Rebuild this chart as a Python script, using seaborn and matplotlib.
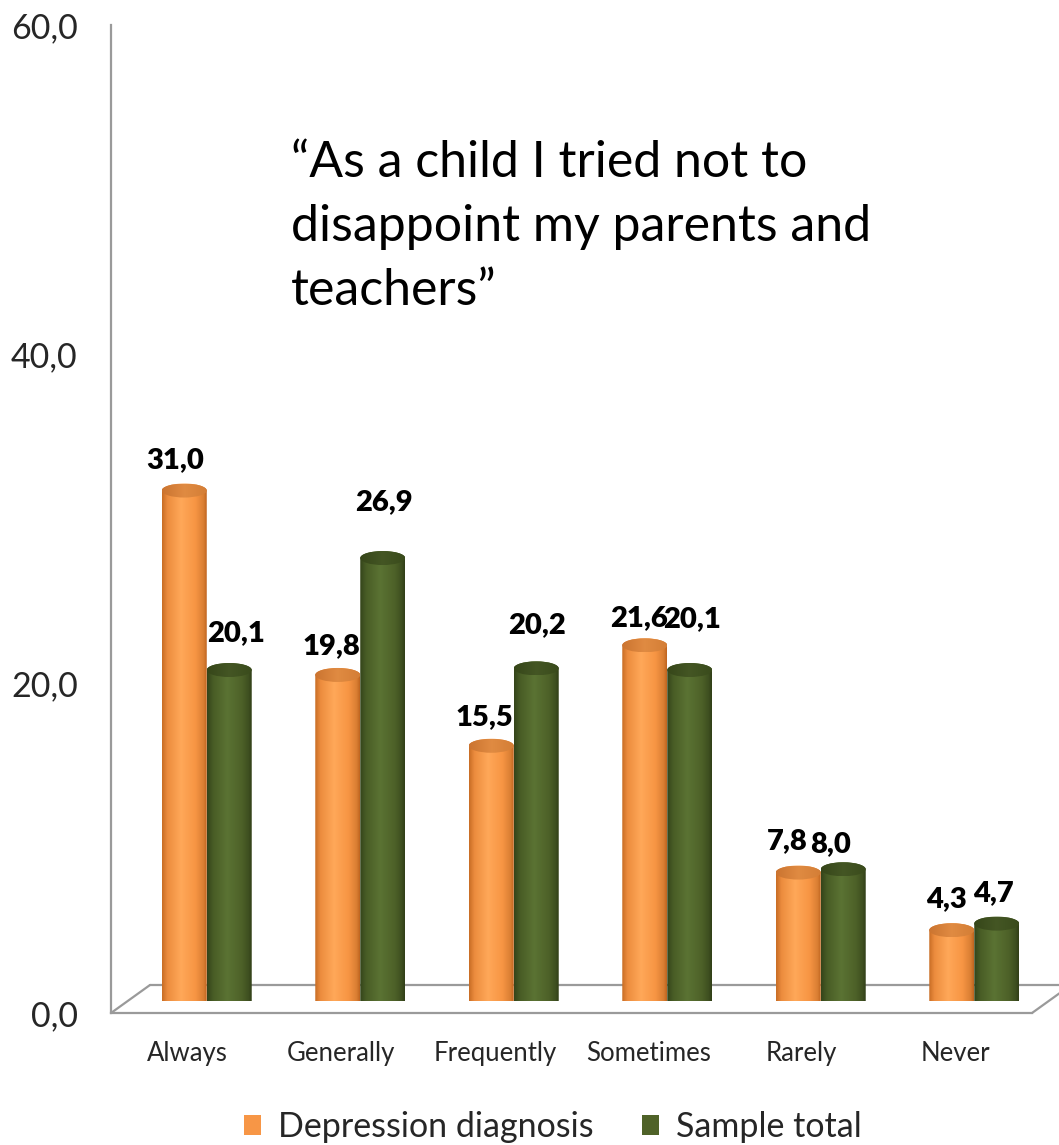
import numpy as np
import pandas as pd
import matplotlib
matplotlib.use("Agg")
import matplotlib.pyplot as plt
from matplotlib.path import Path
from matplotlib.patches import PathPatch, Ellipse, Patch
from matplotlib.colors import LinearSegmentedColormap
import seaborn as sns

# ---- data -------------------------------------------------------------
categories = ["Always", "Generally", "Frequently", "Sometimes", "Rarely", "Never"]
depression = [31.0, 19.8, 15.5, 21.6, 7.8, 4.3]
sample_total = [20.1, 26.9, 20.2, 20.1, 8.0, 4.7]
series_names = ["Depression diagnosis", "Sample total"]
y_ticks = [0, 20, 40, 60]

# nudges (px) of each value label relative to the top of its cylinder cap
label_gap = {
    "Depression diagnosis": [10, 9, 9, 7, 11, 11],
    "Sample total": [17, 36, 23, 31, 5, 10],
}
label_dx = {
    "Depression diagnosis": [-9, -6, -7, -6, -11, -5],
    "Sample total": [7, 1, 1, 2, -13, -3],
}

df = pd.DataFrame({
    "category": categories * 2,
    "value": depression + sample_total,
    "group": [series_names[0]] * len(categories) + [series_names[1]] * len(categories),
})

# ---- style ------------------------------------------------------------
sns.set_style("white")
plt.rcParams["font.family"] = ["Lato", "DejaVu Sans"]

W, H, DPI = 1059, 1145, 100
fig = plt.figure(figsize=(W / DPI, H / DPI), dpi=DPI)

# axis frame (front plane of the 3-D box), in pixels
left, right, top, bottom = 111, 1032, 25, 1013
depth_dx, depth_dy = 39, 28          # floor depth
bar_dx, bar_dy = 19, 12              # bars stand half-way into the floor

def fig_rect(l, b_px, w, h):
    return [l / W, (H - b_px) / H, w / W, h / H]

ax = fig.add_axes(fig_rect(left, bottom, right - left, bottom - top))
bar_ax = fig.add_axes(fig_rect(left + bar_dx, bottom - bar_dy, right - left, bottom - top))

gray = "#9a9a9a"
for a in (ax, bar_ax):
    a.set_xlim(-0.5, len(categories) - 0.5)
    a.set_ylim(0, 60)
    a.set_facecolor("none")

# ---- bars via seaborn --------------------------------------------------
colors = {"Depression diagnosis": "#f79646", "Sample total": "#4f6228"}
sns.barplot(data=df, x="category", y="value", hue="group", order=categories,
            hue_order=series_names, palette=colors, width=0.586, dodge=True,
            legend=False, ax=bar_ax, errorbar=None, saturation=1)
bar_ax.set_xlim(-0.5, len(categories) - 0.5)
bar_ax.set_ylim(0, 60)
bar_ax.axis("off")

px_per_unit = (bottom - top) / 60.0
px_per_cat = (right - left) / len(categories)
ell = 7.0 / px_per_unit  # half-height of the cylinder ellipses in data units

body_cmaps = {
    "Depression diagnosis": LinearSegmentedColormap.from_list(
        "org", [(0, "#c86d25"), (0.12, "#ec8c3e"), (0.42, "#ffa859"),
                (0.75, "#f79543"), (0.93, "#d97e33"), (1, "#c0651f")]),
    "Sample total": LinearSegmentedColormap.from_list(
        "grn", [(0, "#34441a"), (0.14, "#495d26"), (0.45, "#5b7333"),
                (0.78, "#4d6128"), (0.93, "#3e4f20"), (1, "#313f18")]),
}
cap_cmaps = {
    "Depression diagnosis": LinearSegmentedColormap.from_list(
        "orgcap", ["#cb7430", "#e08b42", "#d47e36"]),
    "Sample total": LinearSegmentedColormap.from_list(
        "grncap", ["#364619", "#445624", "#3a4b1c"]),
}

grad = np.linspace(0, 1, 128)[None, :]
theta_lo = np.linspace(np.pi, 2 * np.pi, 60)
theta_hi = np.linspace(0, np.pi, 60)

for name, container in zip(series_names, bar_ax.containers):
    vals = depression if name == series_names[0] else sample_total
    for i, rect in enumerate(container):
        x0, w, h = rect.get_x(), rect.get_width(), rect.get_height()
        rect.set_visible(False)
        cx = x0 + w / 2
        # silhouette of the cylinder body
        xs = np.concatenate([[x0], cx + w / 2 * np.cos(theta_lo), [x0 + w],
                             cx + w / 2 * np.cos(theta_hi)])
        ys = np.concatenate([[h], ell * np.sin(theta_lo), [h],
                             h + ell * np.sin(theta_hi)])
        verts = np.column_stack([xs, ys])
        codes = [Path.MOVETO] + [Path.LINETO] * (len(verts) - 2) + [Path.CLOSEPOLY]
        body = PathPatch(Path(verts, codes), facecolor="none", edgecolor="none",
                         transform=bar_ax.transData)
        bar_ax.add_patch(body)
        im = bar_ax.imshow(body_cmaps[name](grad), extent=[x0, x0 + w, -ell, h + ell],
                           aspect="auto", interpolation="bilinear", zorder=2)
        im.set_clip_path(body)
        # top cap
        cap = Ellipse((cx, h), w, 2 * ell, facecolor="none", edgecolor="none",
                      transform=bar_ax.transData)
        bar_ax.add_patch(cap)
        cim = bar_ax.imshow(cap_cmaps[name](grad), extent=[x0, x0 + w, h - ell, h + ell],
                            aspect="auto", interpolation="bilinear", zorder=3)
        cim.set_clip_path(cap)
        # value label
        bar_ax.annotate(f"{vals[i]:.1f}".replace(".", ","), xy=(cx, h + ell),
                        xytext=(label_dx[name][i] * 72 / DPI, label_gap[name][i] * 72 / DPI),
                        textcoords="offset points", ha="center", va="bottom",
                        fontsize=21, fontweight="heavy", color="black", zorder=5)

bar_ax.set_xlim(-0.5, len(categories) - 0.5)
bar_ax.set_ylim(0, 60)

# ---- axis decoration ----------------------------------------------------
for s in ("top", "right"):
    ax.spines[s].set_visible(False)
for s in ("left", "bottom"):
    ax.spines[s].set_color(gray)
    ax.spines[s].set_linewidth(1.6)

ax.set_yticks(y_ticks)
ax.set_yticklabels([f"{v:.1f}".replace(".", ",") for v in y_ticks], fontsize=24.5)
ax.tick_params(axis="y", direction="out", length=8, width=1.6, color=gray, pad=16)
ax.set_xticks(range(len(categories)))
ax.set_xticklabels(categories, fontsize=18.5)
ax.tick_params(axis="x", which="major", length=0, pad=20)
ax.set_xticks(np.arange(-0.5, len(categories)), minor=True)
ax.tick_params(axis="x", which="minor", direction="out", length=6.5, width=1.6, color=gray)
ax.set_xlabel("")
ax.set_ylabel("")

# floor of the box: back edge and the two side edges
fx = depth_dx / px_per_cat
fy = depth_dy / px_per_unit
x_lo, x_hi = -0.5, len(categories) - 0.5
ax.plot([x_lo + fx, x_hi + fx + 0.5], [fy, fy], color=gray, lw=1.6, clip_on=False, zorder=0)
ax.plot([x_lo, x_lo + fx], [0, fy], color=gray, lw=1.6, clip_on=False, zorder=0)
ax.plot([x_hi, x_hi + fx], [0, fy], color=gray, lw=1.6, clip_on=False, zorder=0)
ax.set_xlim(x_lo, x_hi)
ax.set_ylim(0, 60)

# title inside plot area
fig.text(291 / W, 1 - 140 / H,
         "\u201cAs a child I tried not to\ndisappoint my parents and\nteachers\u201d",
         ha="left", va="top", fontsize=36, linespacing=1.49, color="black")

# legend
handles = [Patch(facecolor=colors[n], edgecolor="none") for n in series_names]
fig.legend(handles, series_names, loc="center", bbox_to_anchor=(553 / W, 1 - 1127 / H),
           ncol=2, frameon=False, fontsize=24.5, handlelength=0.5, handleheight=0.5,
           handletextpad=0.5, columnspacing=1.4, borderpad=0)

fig.savefig("out.png", dpi=DPI)
